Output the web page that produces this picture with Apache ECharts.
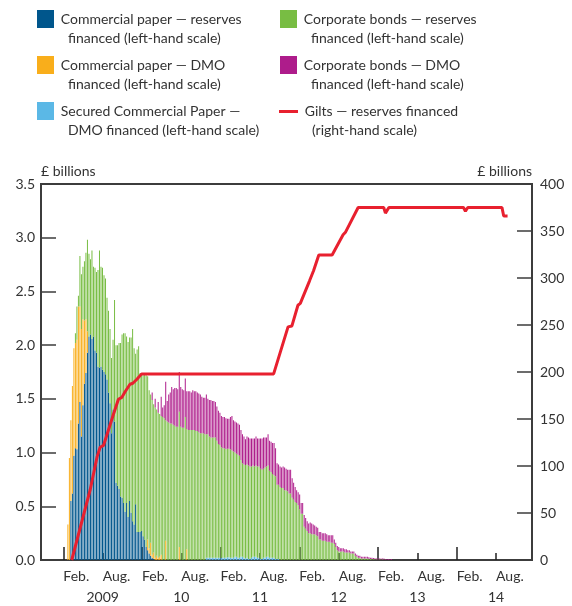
<!DOCTYPE html>
<html><head><meta charset="utf-8">
<script src="https://cdn.jsdelivr.net/npm/echarts@6/dist/echarts.min.js"></script>
<style>html,body{margin:0;padding:0;background:#fff}#c{width:572px;height:606px}</style>
</head><body><div id="c"></div>
<script>
// Weekly bars, first week shown:
const firstWeek = '2009-01-20';

// Commercial paper — reserves financed (£bn, left scale)
const cpReserves = [
0,0,0.55,0.62,0.97,1.04,1.03,1.27,1.47,1.15,
1.44,1.64,1.74,1.93,2.08,2.10,2.06,2.08,1.95,1.93,
1.80,1.79,1.80,1.77,1.75,1.73,1.68,1.56,1.46,1.18,
1.40,1.29,0.72,0.69,0.66,0.59,0.58,0.53,0.45,0.53,
0.40,0.55,0.44,0.36,0.33,0.52,0.26,0.26,0.26,0.27,
0.22,0.19,0.12,0.09,0.06,0.04,0.02,0.01,0,0,
0,0,0,0,0,0,0,0,0,0,
0,0,0,0,0,0,0,0,0,0,
0,0,0,0,0,0,0,0,0,0,
0,0,0,0,0,0,0,0,0,0,
0,0,0,0,0,0,0,0,0,0,
0,0,0,0,0,0,0,0,0,0,
0,0,0,0,0,0,0,0,0,0,
0,0,0,0,0,0,0,0,0,0,
0,0,0,0,0,0,0,0,0,0,
0,0,0,0,0,0,0,0,0,0,
0,0,0,0,0,0,0,0,0,0,
0,0,0,0,0,0,0,0,0,0,
0,0,0,0,0,0,0,0,0,0,
0,0,0,0,0,0,0,0,0,0,
0,0,0,0,0,0,0,0,0,0,
0,0,0,0,0,0];

// Commercial paper — DMO financed
const cpDmo = [
0.33,0.95,0.75,1.00,1.00,0.98,1.02,1.09,0.89,1.00,
0.80,0.59,0.50,0.20,0,0,0,0,0,0,
0,0,0,0,0,0,0,0,0,0,
0,0,0,0,0,0,0,0,0,0,
0,0,0,0,0,0,0,0,0,0,
0,0,0,0.10,0.05,0.12,0.03,0.06,0.02,0.04,
0.02,0.03,0.05,0,0,0.18,0,0,0,0,
0,0,0,0,0.12,0,0,0,0,0.10,
0,0,0,0,0,0,0,0,0,0,
0,0,0,0,0,0,0,0,0,0,
0,0,0,0,0,0,0,0,0,0,
0,0,0,0,0,0,0,0,0,0,
0,0,0,0,0,0,0,0,0,0,
0,0,0,0,0,0,0,0,0,0,
0,0,0,0,0,0,0,0,0,0,
0,0,0,0,0,0,0,0,0,0,
0,0,0,0,0,0,0,0,0,0,
0,0,0,0,0,0,0,0,0,0,
0,0,0,0,0,0,0,0,0,0,
0,0,0,0,0,0,0,0,0,0,
0,0,0,0,0,0,0,0,0,0,
0,0,0,0,0,0];

// Secured Commercial Paper — DMO financed
const scpDmo = [
0,0,0,0,0,0,0,0,0,0,
0,0,0,0,0,0,0,0,0,0,
0,0,0,0,0,0,0,0,0,0,
0,0,0,0,0,0,0,0,0,0,
0,0,0,0,0,0,0,0,0,0,
0,0,0,0,0,0,0,0,0,0,
0,0,0,0,0,0,0,0,0,0,
0,0,0,0,0,0,0,0,0,0,
0,0,0,0,0,0,0,0,0,0,
0,0,0.02,0.02,0.02,0.02,0.02,0.02,0.02,0.02,
0.02,0.02,0.02,0.02,0.02,0.02,0.025,0.025,0.02,0.02,
0.02,0.03,0.03,0.02,0.02,0.03,0.03,0.02,0.015,0.02,
0.01,0.01,0.02,0.03,0.03,0.03,0.02,0.02,0.01,0.01,
0.02,0.02,0.03,0.03,0.02,0.02,0.02,0.02,0.01,0.01,
0.01,0,0,0,0,0,0,0,0,0,
0,0,0,0,0,0,0,0,0,0,
0,0,0,0,0,0,0,0,0,0,
0,0,0,0,0,0,0,0,0,0,
0,0,0,0,0,0,0,0,0,0,
0,0,0,0,0,0,0,0,0,0,
0,0,0,0,0,0,0,0,0,0,
0,0,0,0,0,0];

// Corporate bonds — reserves financed
const cbReserves = [
0,0,0,0,0,0.09,0.31,0.10,0.47,0.51,
0.49,0.55,0.62,0.85,0.77,0.70,0.82,0.65,0.77,0.75,
0.90,1.09,0.93,0.95,0.90,0.89,0.76,0.76,0.69,0.70,
0.65,1.13,1.28,1.31,1.36,1.43,1.52,1.58,1.66,1.55,
1.63,1.52,1.63,1.79,1.64,1.40,1.70,1.73,1.48,1.46,
1.50,1.54,1.60,1.52,1.47,1.38,1.44,1.38,1.40,1.36,
1.35,1.33,1.29,1.33,1.32,1.12,1.29,1.28,1.27,1.27,
1.26,1.25,1.24,1.24,1.26,1.24,1.23,1.23,1.33,1.12,
1.21,1.21,1.21,1.21,1.21,1.20,1.20,1.19,1.18,1.18,
1.18,1.17,1.15,1.15,1.13,1.12,1.12,1.12,1.12,1.09,
1.06,1.05,1.03,1.02,1.02,1.01,1.01,1.01,1.01,1.00,
0.99,0.97,0.96,0.96,0.95,0.90,0.87,0.87,0.87,0.87,
0.87,0.86,0.85,0.85,0.84,0.85,0.85,0.85,0.84,0.83,
0.83,0.84,0.84,0.85,0.81,0.80,0.78,0.77,0.77,0.69,
0.69,0.68,0.67,0.67,0.65,0.65,0.64,0.62,0.62,0.58,
0.56,0.54,0.53,0.51,0.47,0.43,0.43,0.31,0.29,0.27,
0.25,0.25,0.24,0.24,0.24,0.23,0.22,0.19,0.19,0.18,
0.18,0.18,0.17,0.17,0.17,0.16,0.16,0.15,0.12,0.09,
0.08,0.08,0.08,0.08,0.07,0.07,0.07,0.07,0.06,0.06,
0.06,0.04,0.03,0.02,0.02,0.015,0.015,0.015,0.015,0.015,
0.01,0.01,0.01,0.008,0.006,0.004,0.004,0.004,0.004,0.004,
0.004,0,0,0,0,0];

// Corporate bonds — DMO financed
const cbDmo = [
0,0,0,0,0,0,0,0,0,0,
0,0,0,0,0,0,0,0,0,0,
0,0,0,0,0,0,0,0,0,0,
0,0,0,0,0,0,0,0,0,0,
0,0,0,0,0,0,0,0,0,0,
0,0,0,0,0,0,0.07,0,0.08,0,
0.10,0,0.18,0.09,0.12,0.36,0.19,0.26,0.29,0.34,
0.33,0.35,0.36,0.35,0.37,0.37,0.36,0.35,0.36,0.35,
0.36,0.36,0.35,0.37,0.36,0.37,0.36,0.36,0.36,0.34,
0.33,0.34,0.37,0.33,0.34,0.35,0.34,0.34,0.33,0.32,
0.31,0.30,0.29,0.29,0.29,0.29,0.28,0.28,0.30,0.32,
0.29,0.29,0.29,0.29,0.29,0.28,0.27,0.26,0.24,0.26,
0.26,0.26,0.26,0.25,0.26,0.27,0.26,0.26,0.28,0.29,
0.29,0.28,0.27,0.29,0.28,0.28,0.29,0.30,0.26,0.20,
0.19,0.19,0.19,0.20,0.21,0.20,0.20,0.22,0.22,0.18,
0.16,0.14,0.12,0.12,0.14,0.10,0.10,0.11,0.10,0.09,
0.09,0.10,0.10,0.09,0.08,0.08,0.08,0.07,0.07,0.07,
0.07,0.07,0.07,0.06,0.06,0.07,0.07,0.04,0.04,0.04,
0.04,0.03,0.03,0.03,0.03,0.03,0.02,0.02,0.02,0.02,
0.02,0.02,0.02,0.02,0.02,0.015,0.015,0.015,0.015,0.015,
0.015,0.01,0.01,0.01,0.01,0.01,0.01,0.01,0.01,0.01,
0.01,0.008,0.008,0.008,0.008,0.008];

// Gilts — reserves financed (£bn, right scale), turning points of the line
const giltDates = ['2009-02-07','2009-05-04','2009-06-05','2009-06-19','2009-07-05','2009-08-20',
  '2009-09-12','2009-09-28','2009-10-13','2009-11-05','2009-11-18','2009-12-06','2009-12-29',
  '2011-09-04','2011-11-10','2011-11-28','2011-12-26','2012-01-06','2012-02-18','2012-03-08',
  '2012-04-01','2012-06-02','2012-07-23','2012-08-04','2012-10-01','2013-01-28','2013-02-05',
  '2013-02-21','2014-02-03','2014-02-12','2014-02-23','2014-08-01','2014-08-09','2014-08-27'];
const giltValues = [0,75,110,120,122,155,171,173,179,187,188,192,198,
  198,248,249,271,273,297,308,324.5,324.5,346,349,375,375,369,375,375,371,375,375,366,366];

// Axis labels
const yearTicks = [2009,2010,2011,2012,2013,2014];
const halfYearTicks = [2009.5,2010.5,2011.5,2012.5,2013.5,2014.5];
const yearLabels = ['2009','10','11','12','13','14'];

const names = [
  'Commercial paper — reserves\n  financed (left-hand scale)',
  'Commercial paper — DMO\n  financed (left-hand scale)',
  'Secured Commercial Paper —\n  DMO financed (left-hand scale)',
  'Corporate bonds — reserves\n  financed (left-hand scale)',
  'Corporate bonds — DMO\n  financed (left-hand scale)',
  'Gilts — reserves financed\n  (right-hand scale)'
];
const colors = ['#00568c','#f9ae1b','#5bb8e6','#78bd43','#ae1c8b','#e8202f'];

function fromYear(y) {
  const yr = Math.floor(y);
  const a = Date.UTC(yr, 0, 1), b = Date.UTC(yr + 1, 0, 1);
  return a + (y - yr) * (b - a);
}
const DAY = 86400000;
const start = new Date(firstWeek + 'T00:00:00Z').getTime();
const weekX = cpReserves.map((_, i) => start + i * 7 * DAY);
const giltX = giltDates.map(d => new Date(d + 'T00:00:00Z').getTime());
const yearTickT = yearTicks.map(fromYear);
const halfTickT = halfYearTicks.map(fromYear);

const FONT = 'Lato, sans-serif';
const TXT = '#333';
const AX = '#3c3c3c';
const xMin = fromYear(2008.7166), xMax = fromYear(2014.957);

function barSeries(idx, arr) {
  return {
    name: names[idx], type: 'bar', stack: 'apf', xAxisIndex: 0, yAxisIndex: 0,
    barWidth: 1, itemStyle: { color: colors[idx] },
    data: arr.map((v, i) => [weekX[i], v])
  };
}

// icon centre y: 19, 65, 111 ; text block (3 lines incl. a leading empty one) centred on icon
const legendPos = [[37,-9.5],[37,36.5],[37,82.5],[280,-9.5],[280,36.5],[279,83]];
const legends = names.map((n, i) => ({
  data: [n], left: legendPos[i][0], top: legendPos[i][1], padding: 0,
  selectedMode: false,
  icon: 'rect',
  itemWidth: i === 5 ? 19 : 17, itemHeight: i === 5 ? 3 : 18,
  formatter: name => '\n' + name.split('\n').map(s => '\u2009' + s).join('\n'),
  textStyle: { fontFamily: FONT, fontSize: 14, color: TXT, lineHeight: 19 }
}));

const tickAxisBase = {
  type: 'value', min: xMin, max: xMax, position: 'bottom',
  splitLine: { show: false }, axisLine: { show: false }
};

const option = {
  animation: false,
  backgroundColor: '#fff',
  legend: legends,
  grid: { left: 41, right: 40, top: 184, bottom: 46, show: true,
    borderColor: AX, borderWidth: 2, backgroundColor: 'transparent' },
  xAxis: [
    { // data axis (time) — carries the series
      type: 'time', min: xMin, max: xMax, position: 'bottom',
      axisLine: { show: true, lineStyle: { color: AX, width: 2 } },
      axisTick: { show: false }, axisLabel: { show: false }, splitLine: { show: false }
    },
    Object.assign({}, tickAxisBase, {
      axisTick: { show: true, inside: true, length: 13, customValues: yearTickT,
        lineStyle: { color: '#222', width: 1.5 } },
      axisLabel: { show: true, customValues: yearTickT, formatter: () => 'Feb.',
        align: 'left', margin: 9, fontFamily: FONT, fontSize: 14, color: TXT }
    }),
    Object.assign({}, tickAxisBase, {
      axisTick: { show: true, inside: true, length: 7, customValues: halfTickT,
        lineStyle: { color: '#222', width: 1.5 } },
      axisLabel: { show: true, customValues: halfTickT, formatter: () => 'Aug.',
        align: 'left', margin: 9, fontFamily: FONT, fontSize: 14, color: TXT }
    }),
    Object.assign({}, tickAxisBase, {
      axisTick: { show: false },
      axisLabel: { show: true, customValues: halfTickT,
        formatter: v => yearLabels[new Date(v).getUTCFullYear() - 2009] || '',
        align: 'center', margin: 30, fontFamily: FONT, fontSize: 14, color: TXT }
    })
  ],
  yAxis: [
    {
      type: 'value', min: 0, max: 3.5, interval: 0.5, position: 'left',
      name: '£ billions', nameLocation: 'end', nameGap: 6,
      nameTextStyle: { align: 'left', verticalAlign: 'bottom', fontFamily: FONT, fontSize: 14, color: TXT },
      axisLine: { show: true, lineStyle: { color: AX, width: 2 } },
      axisTick: { show: true, inside: true, length: 15, lineStyle: { color: AX, width: 1.5 } },
      axisLabel: { formatter: v => v.toFixed(1), margin: 6, fontFamily: FONT, fontSize: 14, color: TXT },
      splitLine: { show: false }
    },
    {
      type: 'value', min: 0, max: 400, interval: 50, position: 'right',
      name: '£ billions', nameLocation: 'end', nameGap: 6,
      nameTextStyle: { align: 'right', verticalAlign: 'bottom', fontFamily: FONT, fontSize: 14, color: TXT },
      axisLine: { show: true, lineStyle: { color: AX, width: 2 } },
      axisTick: { show: true, inside: true, length: 15, lineStyle: { color: AX, width: 1.5 } },
      axisLabel: { margin: 8, fontFamily: FONT, fontSize: 14, color: TXT },
      splitLine: { show: false }
    }
  ],
  series: [
    barSeries(0, cpReserves),
    barSeries(1, cpDmo),
    barSeries(2, scpDmo),
    barSeries(3, cbReserves),
    barSeries(4, cbDmo),
    {
      name: names[5], type: 'line', xAxisIndex: 0, yAxisIndex: 1, z: 10,
      symbol: 'none', itemStyle: { color: colors[5] },
      lineStyle: { color: colors[5], width: 3 },
      data: giltX.map((x, i) => [x, giltValues[i]])
    }
  ]
};

const chart = echarts.init(document.getElementById('c'), null, { renderer: 'canvas' });
chart.setOption(option);
</script>
</body></html>
